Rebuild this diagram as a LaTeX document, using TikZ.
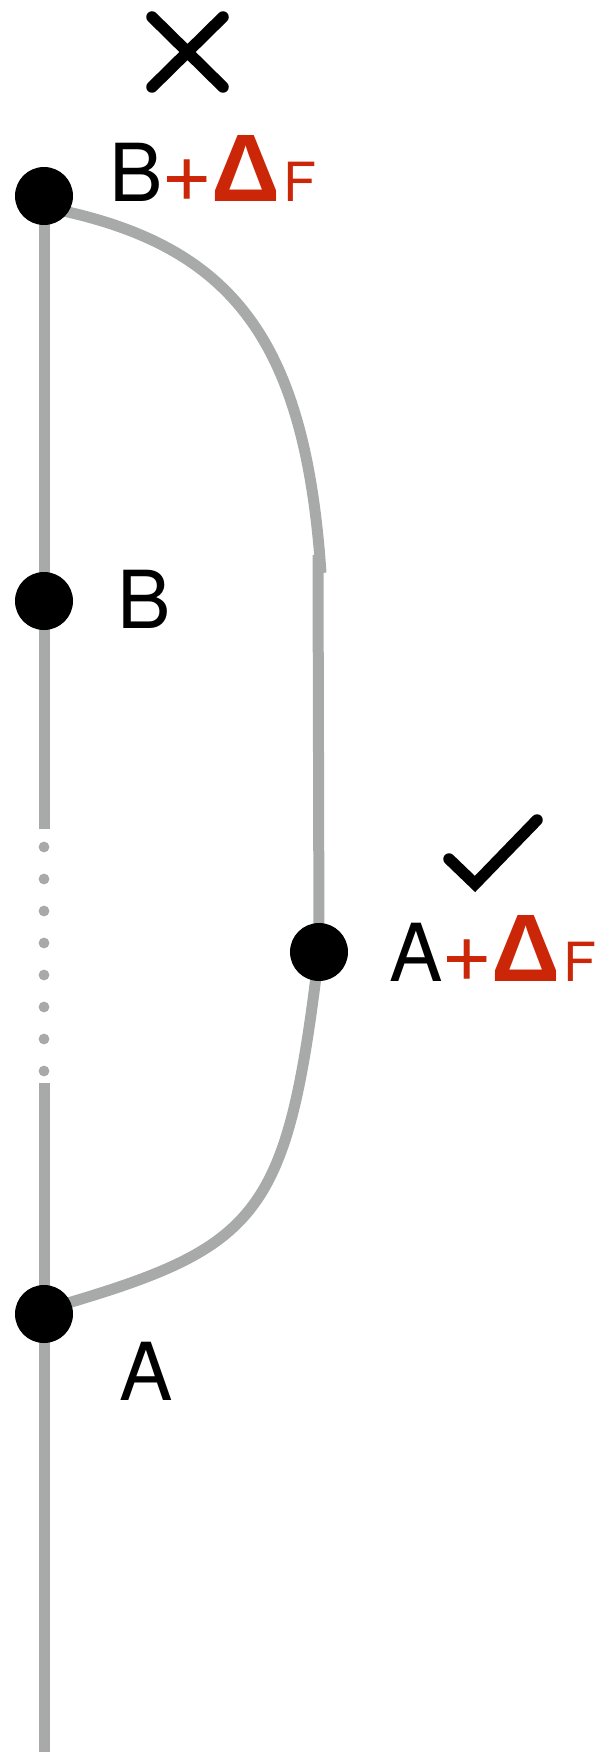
\documentclass[tikz,border=0pt]{standalone}
\usepackage{fontspec}
\setmainfont{TeX Gyre Heros}
\newfontfamily\dfont{Liberation Sans Bold}
\usetikzlibrary{backgrounds}
\definecolor{lgray}{RGB}{168,170,169}
\definecolor{dred}{RGB}{203,38,8}
\tikzset{
  dot/.style={circle,fill=black,inner sep=0pt,minimum size=58pt},
  gline/.style={draw=lgray,line width=11pt},
  gdot/.style={fill=lgray},
  lbl/.style={anchor=base west,inner sep=0pt,font=\fontsize{80}{80}\selectfont},
  symstroke/.style={line width=11.5pt,line cap=round},
}
\newcommand{\pls}{{\fontsize{88}{88}\selectfont +}}
\newcommand{\dlt}{{\fontsize{96}{96}\dfont Δ}}
\newcommand{\sF}{{\fontsize{54}{54}\selectfont F}}
\begin{document}
\begin{tikzpicture}[x=1pt,y=-1pt]
\useasboundingbox (0,0) rectangle (599,1752);
\node[dot] (Bf) at (44,196) {};
\node[dot] (B) at (44,601) {};
\node[dot] (Af) at (319,952) {};
\node[dot] (A) at (44,1314) {};
\coordinate (ctop) at (321,573);
\coordinate (rtop) at (318,555);
\coordinate (s1) at (44,829);
\coordinate (s2) at (44,1083);
\coordinate (bot) at (44,1752);
\begin{scope}[on background layer]
  \draw[gline] (Bf.center) -- (B.center) -- (s1);
  \draw[gline] (s2) -- (A.center) -- (bot);
  \foreach \k in {0,...,7} {
    \fill[gdot] (44,{847+32*\k}) circle[radius=5.4pt];
  }
  \draw[gline] (rtop) -- (Af.center);
  \draw[gline] ([yshift=-11pt]Bf.center) .. controls (229,242) and (305,335) .. (ctop);
  \draw[gline] ([yshift=4pt]A.center) .. controls (259,1248) and (287,1222) .. (Af.center);
\end{scope}
\node[lbl] (lBf) at (109,201.7) {B\textcolor{dred}{\hspace{-1pt}\pls\hspace{-1pt}\dlt\hspace{3pt}\sF}};
\node[lbl] (lB) at (117,628) {B};
\node[lbl] (lAf) at (389,981) {A\textcolor{dred}{\hspace{-1pt}\pls\hspace{-1pt}\dlt\hspace{3pt}\sF}};
\node[lbl] (lA) at (119,1400.7) {A};
\coordinate (x1) at (152,17);
\coordinate (x2) at (223,87);
\coordinate (x3) at (152,87);
\coordinate (x4) at (223,17);
\draw[symstroke] (x1) -- (x2) (x3) -- (x4);
\coordinate (c1) at (449,859);
\coordinate (c2) at (475,884);
\coordinate (c3) at (537,820);
\draw[symstroke,line join=miter] (c1) -- (c2) -- (c3);
\end{tikzpicture}
\end{document}
